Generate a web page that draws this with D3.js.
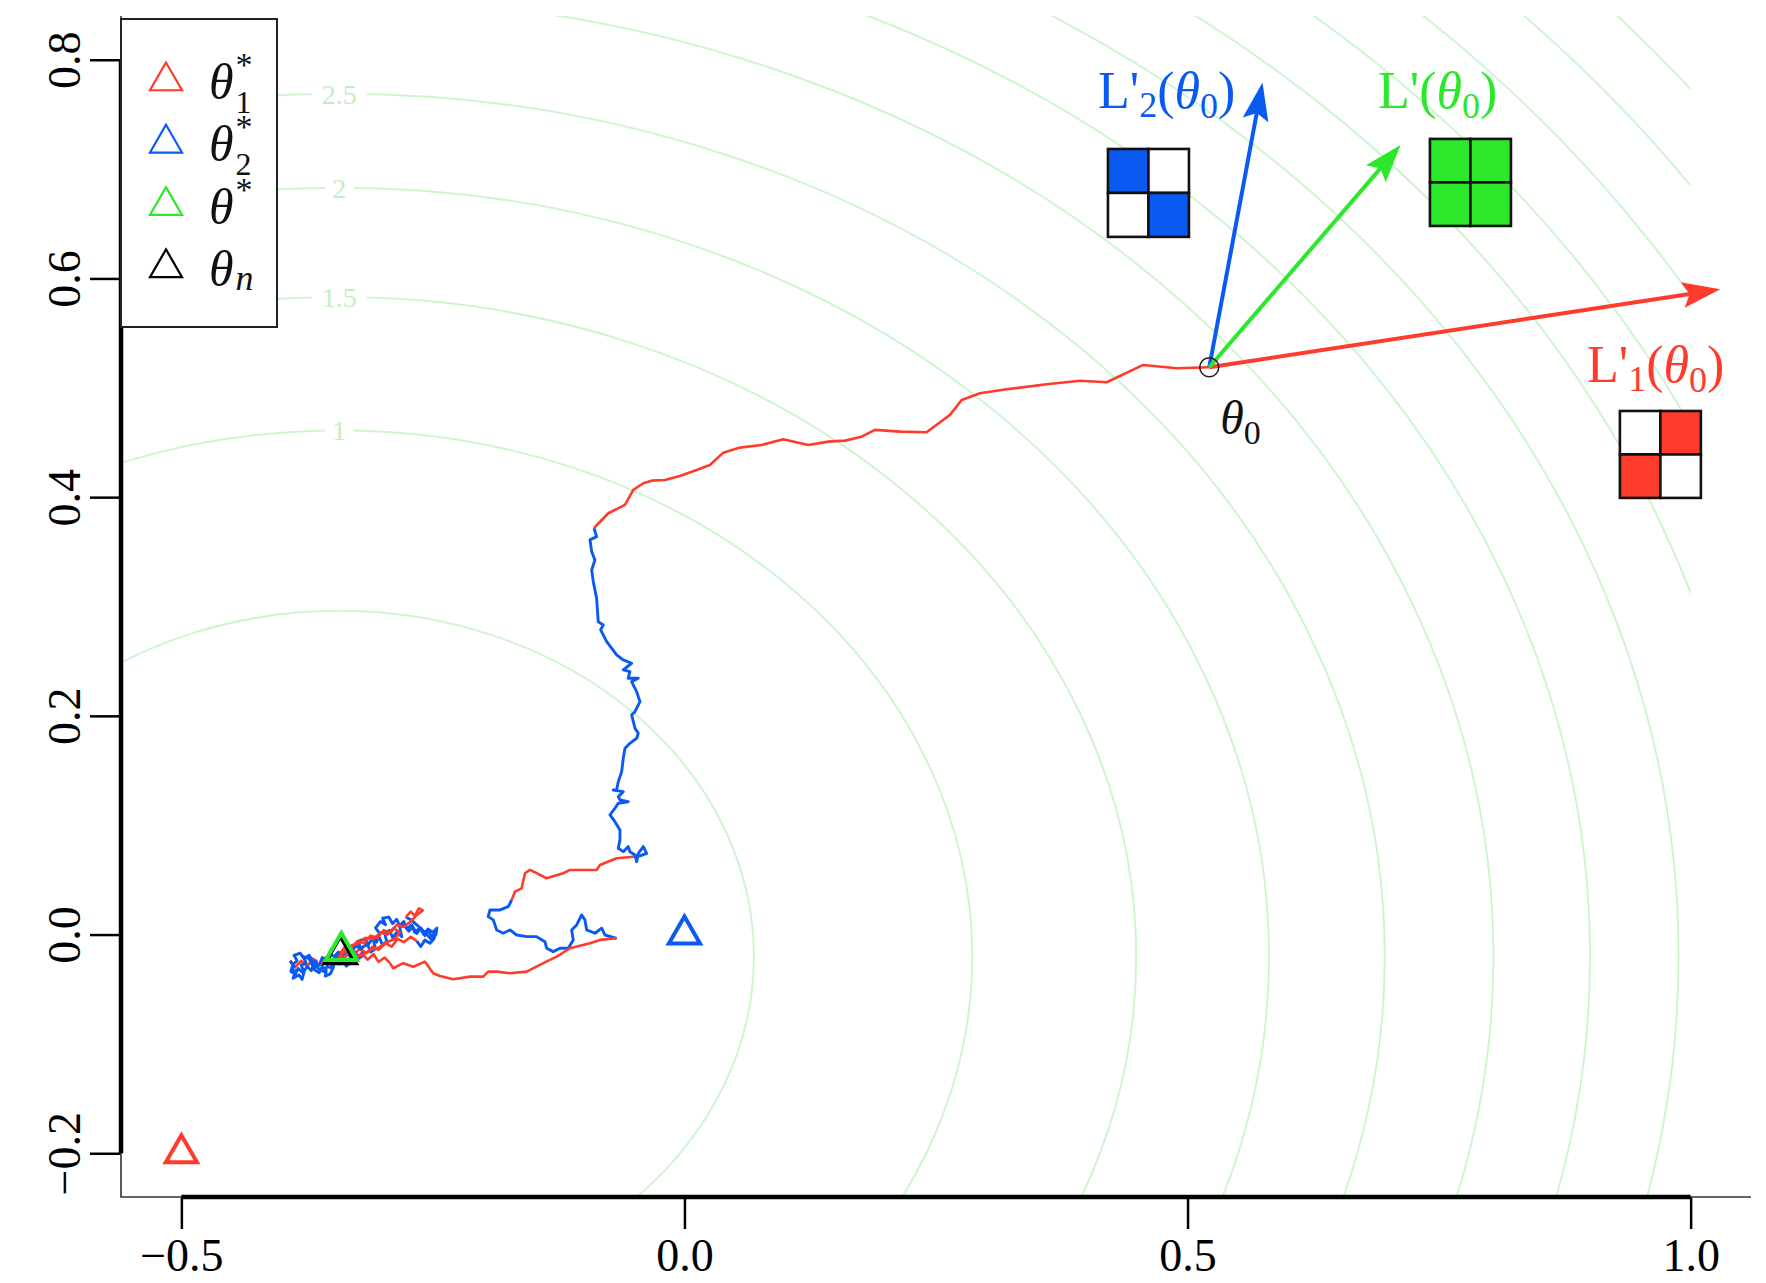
<!DOCTYPE html>
<html>
<head>
<meta charset="utf-8">
<script src="https://cdn.jsdelivr.net/npm/d3@7"></script>
<style>
  body { margin: 0; background: #fff; }
  svg { display: block; }
  text { font-family: "Liberation Serif", "DejaVu Serif", serif; }
</style>
</head>
<body>
<svg id="chart" width="1766" height="1283"></svg>
<script>
// ---------------- data ----------------
const xTicks = [-0.5, 0.0, 0.5, 1.0];
const xTickLabels = ["\u22120.5", "0.0", "0.5", "1.0"];
const yTicks = [-0.2, 0.0, 0.2, 0.4, 0.6, 0.8];
const yTickLabels = ["\u22120.2", "0.0", "0.2", "0.4", "0.6", "0.8"];

// level sets of the total loss L (ellipses around its minimum)
const lossCenter = [-0.343, -0.020];
const contourLevels     = [0.5, 1, 1.5, 2, 2.5, 3, 3.5, 4, 4.5, 5, 5.5, 6, 6.5];
const contourHalfWidth  = [0.412, 0.629, 0.792, 0.924, 1.039, 1.147, 1.243, 1.331, 1.412, 1.486, 1.559, 1.630, 1.698];
const contourHalfHeight = [0.316, 0.481, 0.603, 0.703, 0.789, 0.876, 0.949, 1.016, 1.078, 1.134, 1.190, 1.244, 1.296];
const labelledLevels = [1, 1.5, 2, 2.5];

// optima and start point
const theta1Star = [-0.5, -0.2];
const theta2Star = [0.0, 0.0];
const thetaStar  = [-0.341, -0.015];
const thetaN     = [-0.342, -0.018];
const theta0     = [0.5216, 0.5188];

// gradients at theta0 (L1, L2, L) and their sign patterns
const gradKeys  = ["L1", "L2", "L"];
const gradDx    = [0.5079, 0.0529, 0.1902];
const gradDy    = [0.0713, 0.2604, 0.2033];
const gradMasks = [[0, 1, 1, 0], [1, 0, 0, 1], [1, 1, 1, 1]];

// optimisation trajectory, alternating L1 steps (red) and L2 steps (blue)
const stepsL1a = [[0.5216,0.5188],[0.4892,0.5179],[0.4560,0.5209],[0.4196,0.5051],[0.3931,0.5065],[0.3600,0.5032],[0.3202,0.4987],[0.2937,0.4950],[0.2755,0.4889],[0.2639,0.4752],[0.2407,0.4594],[0.2142,0.4599],[0.1893,0.4615],[0.1761,0.4553],[0.1595,0.4517],[0.1429,0.4508],[0.1230,0.4477],[0.0982,0.4530],[0.0767,0.4477],[0.0552,0.4453],[0.0386,0.4407],[0.0253,0.4294],[0.0121,0.4248],[-0.0045,0.4194],[-0.0194,0.4157],[-0.0326,0.4151],[-0.0409,0.4127],[-0.0509,0.4066],[-0.0591,0.3929],[-0.0757,0.3853],[-0.0899,0.3718]];
const stepsL2a = [[-0.0899,0.3716],[-0.0873,0.3639],[-0.0939,0.3609],[-0.0922,0.3502],[-0.0890,0.3426],[-0.0922,0.3334],[-0.0906,0.3227],[-0.0873,0.3075],[-0.0857,0.2861],[-0.0807,0.2831],[-0.0833,0.2786],[-0.0773,0.2679],[-0.0674,0.2557],[-0.0608,0.2511],[-0.0525,0.2481],[-0.0608,0.2420],[-0.0542,0.2404],[-0.0559,0.2344],[-0.0459,0.2344],[-0.0525,0.2313],[-0.0475,0.2221],[-0.0442,0.2130],[-0.0492,0.2038],[-0.0525,0.2008],[-0.0492,0.1887],[-0.0459,0.1841],[-0.0475,0.1795],[-0.0542,0.1749],[-0.0591,0.1704],[-0.0608,0.1612],[-0.0624,0.1490],[-0.0658,0.1398],[-0.0674,0.1322],[-0.0708,0.1322],[-0.0608,0.1307],[-0.0658,0.1261],[-0.0641,0.1231],[-0.0559,0.1215],[-0.0658,0.1201],[-0.0691,0.1155],[-0.0740,0.1094],[-0.0691,0.1032],[-0.0641,0.0957],[-0.0641,0.0865],[-0.0658,0.0789],[-0.0608,0.0758],[-0.0559,0.0804],[-0.0542,0.0758],[-0.0492,0.0728],[-0.0475,0.0667],[-0.0459,0.0743],[-0.0409,0.0804],[-0.0376,0.0743],[-0.0442,0.0719],[-0.0509,0.0712]];
const stepsL1b = [[-0.0509,0.0712],[-0.0674,0.0698],[-0.0840,0.0636],[-0.0873,0.0591],[-0.1138,0.0591],[-0.1205,0.0561],[-0.1370,0.0515],[-0.1469,0.0561],[-0.1536,0.0591],[-0.1585,0.0561],[-0.1618,0.0423],[-0.1685,0.0392],[-0.1717,0.0316]];
const stepsL2b = [[-0.1717,0.0316],[-0.1751,0.0255],[-0.1834,0.0225],[-0.1933,0.0225],[-0.1950,0.0164],[-0.1900,0.0134],[-0.1866,0.0042],[-0.1801,0.0012],[-0.1734,0.0042],[-0.1668,-0.0004],[-0.1568,-0.0019],[-0.1469,-0.0019],[-0.1386,-0.0065],[-0.1370,-0.0125],[-0.1304,-0.0156],[-0.1237,-0.0125],[-0.1155,-0.0125],[-0.1105,-0.0049],[-0.1121,0.0042],[-0.1071,0.0088],[-0.1022,0.0179],[-0.0989,0.0134],[-0.0972,0.0042],[-0.0889,0.0012],[-0.0823,0.0058],[-0.0790,-0.0004],[-0.0674,-0.0034]];
const stepsL1c = [[-0.0674,-0.0034],[-0.0840,-0.0049],[-0.0939,-0.0080],[-0.1138,-0.0125],[-0.1270,-0.0202],[-0.1403,-0.0262],[-0.1568,-0.0339],[-0.1734,-0.0354],[-0.1866,-0.0339],[-0.1950,-0.0339],[-0.2000,-0.0385],[-0.2132,-0.0385],[-0.2298,-0.0409],[-0.2430,-0.0379],[-0.2497,-0.0354],[-0.2579,-0.0248],[-0.2695,-0.0294],[-0.2795,-0.0262],[-0.2894,-0.0308],[-0.2927,-0.0262]];
const stepsL1d = [[-0.2927,-0.0262],[-0.298,-0.021],[-0.304,-0.025],[-0.309,-0.018],[-0.315,-0.023],[-0.321,-0.017],[-0.327,-0.022],[-0.333,-0.016],[-0.339,-0.023],[-0.345,-0.019],[-0.351,-0.026],[-0.357,-0.021],[-0.363,-0.028],[-0.369,-0.022],[-0.375,-0.029],[-0.381,-0.024],[-0.387,-0.030],[-0.392,-0.024]];
const stepsL2c = [[-0.392,-0.024],[-0.388,-0.029],[-0.391,-0.034],[-0.386,-0.033],[-0.389,-0.040],[-0.383,-0.037],[-0.380,-0.041],[-0.378,-0.034],[-0.381,-0.028],[-0.376,-0.026],[-0.379,-0.020],[-0.373,-0.022],[-0.370,-0.028],[-0.366,-0.024],[-0.368,-0.032],[-0.363,-0.035],[-0.360,-0.029],[-0.356,-0.033],[-0.357,-0.038],[-0.352,-0.036],[-0.349,-0.030],[-0.353,-0.025],[-0.347,-0.022],[-0.343,-0.027],[-0.339,-0.024],[-0.336,-0.029],[-0.331,-0.025],[-0.333,-0.019],[-0.327,-0.016],[-0.324,-0.022],[-0.319,-0.019],[-0.321,-0.012],[-0.315,-0.009],[-0.312,-0.016],[-0.307,-0.013],[-0.309,-0.006],[-0.303,-0.003],[-0.300,-0.010],[-0.296,-0.006],[-0.298,0.001],[-0.293,0.004],[-0.290,-0.003],[-0.286,0.002],[-0.281,-0.002],[-0.283,0.007],[-0.278,0.009],[-0.274,0.003],[-0.270,0.007],[-0.266,0.001],[-0.262,0.006],[-0.258,-0.001],[-0.255,0.004],[-0.251,-0.002],[-0.247,0.003],[-0.249,-0.004],[-0.253,-0.008],[-0.258,-0.005],[-0.262,-0.011],[-0.266,-0.006]];
const stepsL1e = [[-0.266,-0.006],[-0.272,-0.002],[-0.279,-0.007],[-0.285,-0.004],[-0.291,-0.011],[-0.297,-0.008],[-0.304,-0.014],[-0.310,-0.011],[-0.316,-0.017],[-0.323,-0.013],[-0.329,-0.019],[-0.336,-0.016],[-0.342,-0.021],[-0.348,-0.020]];
const stepsL2d = [[-0.348,-0.020],[-0.344,-0.016],[-0.340,-0.020],[-0.335,-0.013],[-0.331,-0.017],[-0.327,-0.010],[-0.322,-0.013],[-0.324,-0.006],[-0.318,-0.004],[-0.314,-0.009],[-0.310,-0.003],[-0.306,-0.007],[-0.303,0.001],[-0.307,0.006],[-0.302,0.012],[-0.297,0.009],[-0.300,0.015],[-0.294,0.016],[-0.290,0.010],[-0.286,0.014],[-0.283,0.008],[-0.279,0.012],[-0.276,0.005],[-0.271,0.009],[-0.268,0.002],[-0.263,0.006],[-0.259,0.000],[-0.255,0.005],[-0.250,0.002],[-0.246,0.006],[-0.247,0.000],[-0.252,-0.004],[-0.258,0.002],[-0.265,0.008],[-0.271,0.013],[-0.277,0.016]];
const stepsL1f = [[-0.277,0.016],[-0.272,0.021],[-0.268,0.017],[-0.264,0.024],[-0.260,0.022],[-0.266,0.018],[-0.272,0.012],[-0.279,0.007],[-0.286,0.009],[-0.292,0.002],[-0.299,0.004],[-0.305,-0.003],[-0.312,-0.001],[-0.318,-0.008],[-0.325,-0.006],[-0.331,-0.012],[-0.337,-0.011],[-0.342,-0.017]];
const stepsL2e = [[-0.342,-0.017],[-0.346,-0.022],[-0.351,-0.018],[-0.355,-0.025],[-0.360,-0.021],[-0.363,-0.028],[-0.368,-0.026],[-0.371,-0.033],[-0.375,-0.029],[-0.379,-0.035],[-0.384,-0.031],[-0.387,-0.037],[-0.391,-0.033],[-0.389,-0.027],[-0.385,-0.024],[-0.388,-0.019],[-0.382,-0.017],[-0.378,-0.022],[-0.373,-0.019],[-0.369,-0.025],[-0.364,-0.031],[-0.358,-0.034],[-0.355,-0.029],[-0.350,-0.031],[-0.347,-0.025],[-0.344,-0.021]];
const stepsL1g = [[-0.344,-0.021],[-0.338,-0.016],[-0.331,-0.010],[-0.324,-0.008],[-0.317,-0.003],[-0.309,-0.004],[-0.302,0.002],[-0.295,0.000],[-0.289,0.006],[-0.283,0.002],[-0.288,-0.004],[-0.296,-0.007],[-0.304,-0.012],[-0.312,-0.014],[-0.320,-0.019],[-0.328,-0.021],[-0.336,-0.024],[-0.343,-0.018]];

const trajectory = [
  ["L1", stepsL1a], ["L2", stepsL2a], ["L1", stepsL1b], ["L2", stepsL2b],
  ["L1", stepsL1c], ["L1", stepsL1d], ["L2", stepsL2c], ["L1", stepsL1e],
  ["L2", stepsL2d], ["L1", stepsL1f], ["L2", stepsL2e], ["L1", stepsL1g]
];

// legend entries
const legendSymbols = ["\u03B8", "\u03B8", "\u03B8", "\u03B8"];
const legendSubs    = ["1", "2", "", "n"];
const legendSups    = ["*", "*", "*", ""];
const legendKeys    = ["L1", "L2", "L", "n"];

// ---------------- styles & layout ----------------
const colors = {
  L1: "#FF3B2B", L2: "#0A5AF2", L: "#2BE82B", n: "#000000",
  contour: "#CFF5CF", contourText: "#C4EDC4"
};
const strokeW = { L1: 2.6, L2: 2.9 };
const layout = {
  plot: { left: 121, right: 1751, top: 16, bottom: 1197 },
  contourMaxX: 1.0,
  gradBoxes: [ // [x0, x1, yTop, yBottom] in data units
    [0.9297, 1.0102, 0.4788, 0.3993],
    [0.4209, 0.5014, 0.7184, 0.6380],
    [0.7409, 0.8214, 0.7276, 0.6480]
  ],
  gradLabels: [ // left x (px), baseline y (px)
    [1587, 382], [1098, 108], [1378, 108]
  ]
};

const svg = d3.select("#chart");
const P = layout.plot;
const x = d3.scaleLinear().domain([-0.56, 1.06]).range([P.left, P.right]);
const y = d3.scaleLinear().domain([-0.24, 0.84]).range([P.bottom, P.top]);

// ---------------- contours ----------------
svg.append("defs").append("clipPath").attr("id", "contourClip")
  .append("rect")
  .attr("x", P.left).attr("y", P.top)
  .attr("width", x(layout.contourMaxX) - P.left)
  .attr("height", P.bottom - P.top);

const contourG = svg.append("g").attr("clip-path", "url(#contourClip)");
contourG.selectAll("ellipse")
  .data(contourLevels)
  .join("ellipse")
  .attr("cx", x(lossCenter[0]))
  .attr("cy", y(lossCenter[1]))
  .attr("rx", (d, i) => x(lossCenter[0] + contourHalfWidth[i]) - x(lossCenter[0]))
  .attr("ry", (d, i) => y(lossCenter[1]) - y(lossCenter[1] + contourHalfHeight[i]))
  .attr("fill", "none")
  .attr("stroke", colors.contour)
  .attr("stroke-width", 2);

const labelG = svg.append("g");
labelledLevels.forEach(lv => {
  const i = contourLevels.indexOf(lv);
  const cx = x(lossCenter[0]);
  const cy = y(lossCenter[1] + contourHalfHeight[i]);
  const txt = String(lv);
  const w = txt.length * 13 + 16;
  labelG.append("rect").attr("x", cx - w / 2).attr("y", cy - 6).attr("width", w).attr("height", 12).attr("fill", "#fff");
  labelG.append("text").attr("x", cx).attr("y", cy + 10)
    .attr("text-anchor", "middle").attr("font-size", 28)
    .attr("fill", colors.contourText).text(txt);
});

// ---------------- trajectory ----------------
const line = d3.line().x(d => x(d[0])).y(d => y(d[1]));
svg.append("g").selectAll("path")
  .data(trajectory)
  .join("path")
  .attr("d", d => line(d[1]))
  .attr("fill", "none")
  .attr("stroke", d => colors[d[0]])
  .attr("stroke-width", d => strokeW[d[0]])
  .attr("stroke-linejoin", "round");

// ---------------- gradient arrows ----------------
const arrowG = svg.append("g");
const ox = x(theta0[0]), oy = y(theta0[1]);
gradKeys.forEach((k, i) => {
  const tx = x(theta0[0] + gradDx[i]), ty = y(theta0[1] + gradDy[i]);
  const len = Math.hypot(tx - ox, ty - oy);
  const ux = (tx - ox) / len, uy = (ty - oy) / len;
  const nx = -uy, ny = ux;
  const headLen = 38, headW = 13, notch = 7;
  const bx = tx - ux * headLen, by = ty - uy * headLen;
  arrowG.append("line")
    .attr("x1", ox).attr("y1", oy)
    .attr("x2", bx + ux * notch).attr("y2", by + uy * notch)
    .attr("stroke", colors[k]).attr("stroke-width", 4);
  arrowG.append("path")
    .attr("d", `M${tx},${ty}L${bx + nx * headW},${by + ny * headW}L${bx + ux * notch},${by + uy * notch}L${bx - nx * headW},${by - ny * headW}Z`)
    .attr("fill", colors[k]);
});

// sign-pattern boxes
gradKeys.forEach((k, i) => {
  const [x0d, x1d, y0d, y1d] = layout.gradBoxes[i];
  const bx0 = x(x0d), bx1 = x(x1d), by0 = y(y0d), by1 = y(y1d);
  const cw = (bx1 - bx0) / 2, ch = (by1 - by0) / 2;
  const g = svg.append("g");
  gradMasks[i].forEach((m, j) => {
    g.append("rect")
      .attr("x", bx0 + (j % 2) * cw).attr("y", by0 + Math.floor(j / 2) * ch)
      .attr("width", cw).attr("height", ch)
      .attr("fill", m ? colors[k] : "#fff")
      .attr("stroke", "#111").attr("stroke-width", 2.6);
  });
});

// gradient labels: L'_k(theta_0)
function gradLabel(px, py, sub, color) {
  const fs = 52, ss = 36;
  const t = svg.append("text").attr("x", px).attr("y", py).attr("font-size", fs).attr("fill", color);
  t.append("tspan").text("L'");
  if (sub) {
    t.append("tspan").attr("font-size", ss).attr("dy", 9).text(sub);
    t.append("tspan").attr("dy", -9).text("(");
  } else {
    t.append("tspan").text("(");
  }
  t.append("tspan").attr("font-style", "italic").text("\u03B8");
  t.append("tspan").attr("font-size", ss).attr("dy", 10).text("0");
  t.append("tspan").attr("dy", -10).text(")");
}
gradLabel(layout.gradLabels[0][0], layout.gradLabels[0][1], "1", colors.L1);
gradLabel(layout.gradLabels[1][0], layout.gradLabels[1][1], "2", colors.L2);
gradLabel(layout.gradLabels[2][0], layout.gradLabels[2][1], "", colors.L);

// start point
svg.append("circle").attr("cx", ox).attr("cy", oy).attr("r", 9.5)
  .attr("fill", "none").attr("stroke", "#222").attr("stroke-width", 1.6);
{
  const t = svg.append("text").attr("x", ox + 11).attr("y", oy + 67).attr("font-size", 48).attr("fill", "#111");
  t.append("tspan").attr("font-style", "italic").text("\u03B8");
  t.append("tspan").attr("font-size", 34).attr("dy", 10).text("0");
}

// ---------------- optima markers ----------------
function tri(cx, cy, r) {
  const w = r * 0.866;
  return `M${cx},${cy - r}L${cx + w},${cy + r / 2}L${cx - w},${cy + r / 2}Z`;
}
const markers = [[thetaN, "n"], [theta1Star, "L1"], [theta2Star, "L2"], [thetaStar, "L"]];
svg.append("g").selectAll("path")
  .data(markers)
  .join("path")
  .attr("d", d => tri(x(d[0][0]), y(d[0][1]), 18))
  .attr("fill", "none")
  .attr("stroke", d => colors[d[1]])
  .attr("stroke-width", 4)
  .attr("stroke-linejoin", "miter");

// ---------------- axes ----------------
const tickFont = 46;
const xAxis = svg.append("g").attr("transform", `translate(0,${P.bottom})`)
  .call(d3.axisBottom(x).tickValues(xTicks).tickSize(32).tickPadding(9)
    .tickFormat((d, i) => xTickLabels[i]));
xAxis.select(".domain").remove();
xAxis.selectAll("line").attr("stroke", "#000").attr("stroke-width", 2.5);
xAxis.selectAll("text").attr("font-size", tickFont).attr("font-family", "Liberation Serif").attr("fill", "#000");

const yAxis = svg.append("g").attr("transform", `translate(${P.left},0)`)
  .call(d3.axisLeft(y).tickValues(yTicks).tickSize(31)
    .tickFormat((d, i) => yTickLabels[i]));
yAxis.select(".domain").remove();
yAxis.selectAll("line").attr("stroke", "#000").attr("stroke-width", 2.5);
yAxis.selectAll("text")
  .attr("x", 0).attr("dy", 0).attr("text-anchor", "middle")
  .attr("transform", "translate(-41,0) rotate(-90)")
  .attr("font-size", tickFont).attr("font-family", "Liberation Serif").attr("fill", "#000");

// thin L-shaped frame
svg.append("path")
  .attr("d", `M${P.left},${P.top}L${P.left},${P.bottom}L${P.right},${P.bottom}`)
  .attr("fill", "none").attr("stroke", "#333").attr("stroke-width", 1.6);
// heavy axis lines between the outer ticks
svg.append("line").attr("x1", x(xTicks[0])).attr("x2", x(xTicks[xTicks.length - 1]))
  .attr("y1", P.bottom).attr("y2", P.bottom).attr("stroke", "#000").attr("stroke-width", 4.5);
svg.append("line").attr("y1", y(yTicks[0])).attr("y2", y(yTicks[yTicks.length - 1]))
  .attr("x1", P.left).attr("x2", P.left).attr("stroke", "#000").attr("stroke-width", 4.5);

// ---------------- legend ----------------
const leg = svg.append("g");
leg.append("rect").attr("x", 121).attr("y", 19).attr("width", 156).attr("height", 308)
  .attr("fill", "#fff").attr("stroke", "#222").attr("stroke-width", 2);
legendSymbols.forEach((s, i) => {
  const cy = 81 + i * 62.3;
  leg.append("path").attr("d", tri(166, cy, 18.5))
    .attr("fill", "none").attr("stroke", colors[legendKeys[i]]).attr("stroke-width", 2.2);
  // symbol with stacked superscript / subscript in one text element
  const t = leg.append("text").attr("x", 209).attr("y", cy + 18).attr("font-size", 50).attr("fill", "#111");
  t.append("tspan").attr("font-style", "italic").text(s);
  let shiftY = 0;
  if (legendSups[i]) {
    t.append("tspan").attr("font-size", 34).attr("dx", 2).attr("dy", -23).text(legendSups[i]);
    shiftY = -23;
  }
  if (legendSubs[i]) {
    const isN = legendSubs[i] === "n";
    const target = isN ? 4 : 14;
    const back = legendSups[i] ? -17 : 2;
    t.append("tspan").attr("font-size", isN ? 36 : 32)
      .attr("font-style", isN ? "italic" : "normal")
      .attr("dx", back).attr("dy", target - shiftY).text(legendSubs[i]);
  }
});
</script>
</body>
</html>
